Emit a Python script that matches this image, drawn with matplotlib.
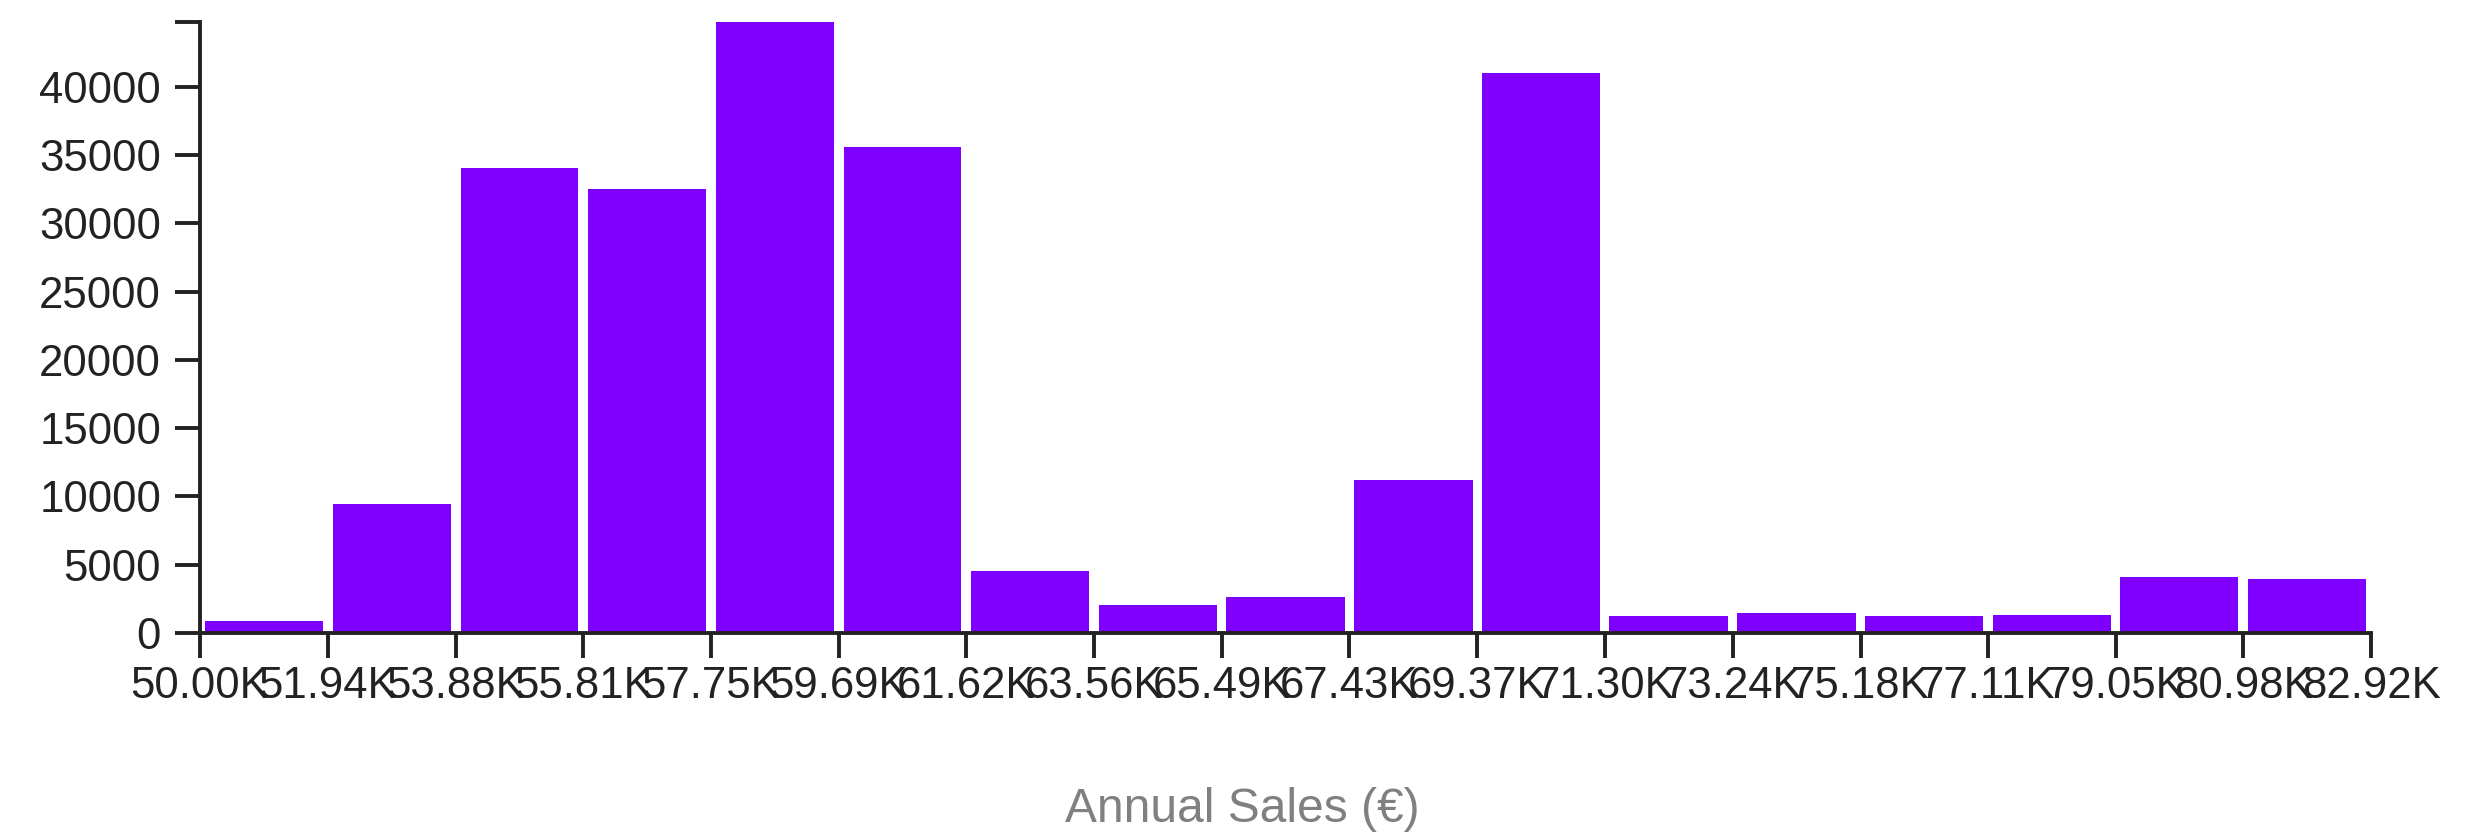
import matplotlib.pyplot as plt

# Dane
edge_labels = ['50.00K', '51.94K', '53.88K', '55.81K', '57.75K', '59.69K', '61.62K',
               '63.56K', '65.49K', '67.43K', '69.37K', '71.30K', '73.24K', '75.18K',
               '77.11K', '79.05K', '80.98K', '82.92K']
edges = [float(s[:-1]) for s in edge_labels]
counts = [857, 9430, 34050, 32520, 44740, 35590, 4520, 2030, 2615, 11180,
          41010, 1223, 1443, 1223, 1297, 4080, 3934]
y_ticks = [0, 5000, 10000, 15000, 20000, 25000, 30000, 35000, 40000]
x_title = 'Annual Sales (€)'

plt.rcParams['font.family'] = ['Liberation Sans', 'DejaVu Sans']
ink = '#222222'

fig = plt.figure(figsize=(24.85, 8.34), dpi=100)
ax = fig.add_axes([200 / 2485, 1 - 633 / 834, (2371 - 200) / 2485, (633 - 22) / 834])

# słupki z małą przerwą
lefts = []
widths = []
for i in range(len(counts)):
    w = edges[i + 1] - edges[i]
    lefts.append(edges[i] + 0.037 * w)
    widths.append(0.925 * w)
ax.bar(lefts, counts, width=widths, align='edge', color='#8000ff', linewidth=0)

ax.set_xlim(edges[0], edges[-1])
ax.set_ylim(0, max(counts))

ax.set_xticks(edges)
ax.set_xticklabels(edge_labels)
ax.set_yticks(y_ticks)
ax.set_yticks([max(counts)], minor=True)
ax.set_yticklabels([], minor=True)

for s in ['top', 'right']:
    ax.spines[s].set_visible(False)
for s in ['left', 'bottom']:
    ax.spines[s].set_linewidth(2.8)
    ax.spines[s].set_color(ink)
    ax.spines[s].set_capstyle('projecting')

ax.tick_params(axis='both', which='both', direction='out', length=18, width=2.8,
               color=ink, labelcolor=ink, labelsize=31.5)
ax.tick_params(axis='y', which='both', pad=10)
ax.tick_params(axis='x', which='both', pad=6)

fig.text(0.5, 1 - 822 / 834, x_title, ha='center', va='baseline', fontsize=34.5, color='#808080')

plt.savefig('out.png', dpi=100)
